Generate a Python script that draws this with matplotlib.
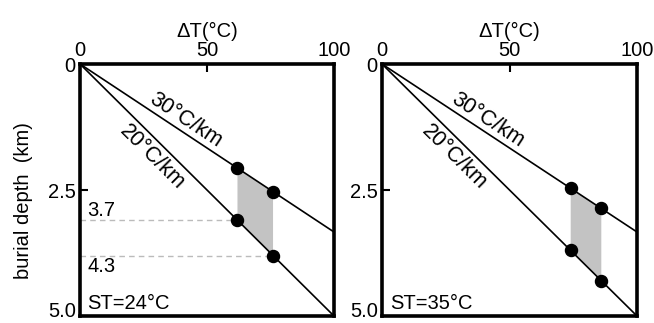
import numpy as np
import matplotlib
matplotlib.use("Agg")
import matplotlib.pyplot as plt
from matplotlib.transforms import ScaledTranslation

plt.rcParams['font.family'] = ['Liberation Sans', 'DejaVu Sans']

# geothermal gradients (degC per km)
gradients = [30, 20]
grad_labels = ["30°C/km", "20°C/km"]

# temperature window as delta T above surface, one per panel
surface_temps = [24, 35]
dT_windows = [[62, 76], [74, 86]]

# depth labels on the left panel
depth_labels = ["3.7", "4.3"]

fig = plt.figure(figsize=(6.54, 3.23), dpi=100)
ax_left = fig.add_axes([80/654, 1-316/323, 254/654, 252/323])
ax_right = fig.add_axes([382/654, 1-316/323, 255/654, 252/323])
axes = [ax_left, ax_right]

fs = 14.5

for i, ax in enumerate(axes):
    ax.set_xlim(0, 100)
    ax.set_ylim(5.0, 0)
    dT = np.array([0, 100])
    for g in gradients:
        ax.plot(dT, dT / g, color='black', lw=1.2, zorder=3)
    lo, hi = dT_windows[i]
    poly_x = [lo, hi, hi, lo]
    poly_y = [lo / 30, hi / 30, hi / 20, lo / 20]
    ax.fill(poly_x, poly_y, color='#c3c3c3', lw=0, zorder=2)
    for g in gradients:
        ax.scatter([lo, hi], [lo / g, hi / g], s=75, color='black', zorder=4)

    ax.xaxis.tick_top()
    ax.xaxis.set_label_position('top')
    ax.set_xticks([0, 50, 100])
    ax.set_yticks([0, 2.5, 5.0])
    ax.set_yticklabels(["0", "2.5", "5.0"])
    ax.tick_params(direction='in', length=6, width=1.5, labelsize=fs, pad=3)
    ax.set_xlabel("ΔT(°C)", fontsize=fs, labelpad=3)
    for sp in ax.spines.values():
        sp.set_linewidth(2.6)
    # nudge the bottom depth label up so it stays inside the figure
    lbl = ax.get_yticklabels()[-1]
    lbl.set_transform(lbl.get_transform() + ScaledTranslation(0, 5/72, fig.dpi_scale_trans))
    ax.text(3, 4.75, "ST=%d°C" % surface_temps[i], fontsize=fs, ha='left', va='center')

ax_left.set_ylabel("burial depth  (km)", fontsize=fs, labelpad=5)
ax_left.yaxis.set_label_coords(-0.185, 0.46)

# dashed guides from the axis to the lower points on the left panel
lo, hi = dT_windows[0]
for val, lab, dy in zip([lo, hi], depth_labels, [-0.2, 0.22]):
    d = val / 20
    ax_left.plot([0, val], [d, d], ls=(0, (4, 3)), color='#bbbbbb', lw=1.0, zorder=1)
    ax_left.text(3, d + dy, lab, fontsize=fs, ha='left', va='center')

fig.canvas.draw()

# gradient labels rotated along their lines
label_xy = {30: (41.5, 1.12), 20: (28.3, 1.85)}
for ax in axes:
    for g, lab in zip(gradients, grad_labels):
        p0 = ax.transData.transform((0, 0))
        p1 = ax.transData.transform((100, 100 / g))
        ang = np.degrees(np.arctan2(p1[1] - p0[1], p1[0] - p0[0]))
        x, y = label_xy[g]
        ax.text(x, y, lab, fontsize=15.5, rotation=ang, rotation_mode='anchor',
                ha='center', va='center')

fig.savefig("out.png", dpi=100)
